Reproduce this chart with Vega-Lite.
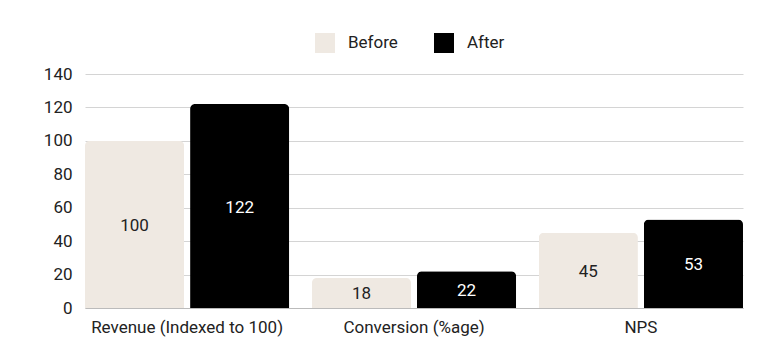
{
  "$schema": "https://vega.github.io/schema/vega-lite/v6.json",
  "width": 658,
  "height": 234,
  "autosize": {"type": "none"},
  "padding": {"left": 85, "top": 74, "right": 25, "bottom": 53},
  "background": "white",
  "config": {
    "font": "Roboto",
    "view": {"stroke": null}
  },
  "data": {
    "values": [
      {"metric": "Revenue (Indexed to 100)", "period": "Before", "value": 100},
      {"metric": "Revenue (Indexed to 100)", "period": "After", "value": 122},
      {"metric": "Conversion (%age)", "period": "Before", "value": 18},
      {"metric": "Conversion (%age)", "period": "After", "value": 22},
      {"metric": "NPS", "period": "Before", "value": 45},
      {"metric": "NPS", "period": "After", "value": 53}
    ]
  },
  "encoding": {
    "x": {
      "field": "metric",
      "type": "nominal",
      "sort": null,
      "scale": {"paddingInner": 0.1, "paddingOuter": 0},
      "axis": {
        "title": null,
        "labelAngle": 0,
        "labelFontSize": 17,
        "labelColor": "#222",
        "labelPadding": 11,
        "labelLimit": 300,
        "ticks": false,
        "domainColor": "#bbb",
        "domainWidth": 1
      }
    },
    "xOffset": {
      "field": "period",
      "type": "nominal",
      "sort": ["Before", "After"],
      "scale": {"paddingInner": 0.057, "paddingOuter": 0}
    },
    "y": {
      "field": "value",
      "type": "quantitative",
      "scale": {"domain": [0, 140]},
      "axis": {
        "title": null,
        "values": [0, 20, 40, 60, 80, 100, 120, 140],
        "labelFontSize": 17,
        "labelColor": "#222",
        "labelPadding": 13,
        "ticks": false,
        "domain": false,
        "gridColor": "#d4d4d4",
        "gridWidth": 1
      }
    }
  },
  "layer": [
    {
      "mark": {"type": "bar", "cornerRadiusTopLeft": 5, "cornerRadiusTopRight": 5},
      "encoding": {
        "color": {
          "field": "period",
          "type": "nominal",
          "sort": ["Before", "After"],
          "scale": {"domain": ["Before", "After"], "range": ["#EFE9E2", "#000000"]},
          "legend": {
            "title": null,
            "orient": "none",
            "direction": "horizontal",
            "legendX": 230,
            "legendY": -41,
            "symbolType": "square",
            "symbolSize": 400,
            "symbolStrokeWidth": 0,
            "labelFontSize": 17,
            "labelColor": "#222",
            "labelOffset": 13,
            "columnPadding": 36
          }
        }
      }
    },
    {
      "mark": {
        "type": "text",
        "fontSize": 17,
        "baseline": "middle",
        "dy": 1.5,
        "yOffset": {"expr": "(scale('y', 0) - scale('y', datum.value)) / 2"}
      },
      "encoding": {
        "text": {"field": "value", "type": "quantitative"},
        "color": {
          "field": "period",
          "type": "nominal",
          "scale": {"domain": ["Before", "After"], "range": ["#222222", "#ffffff"]},
          "legend": null
        }
      }
    }
  ],
  "resolve": {"scale": {"color": "independent"}}
}
